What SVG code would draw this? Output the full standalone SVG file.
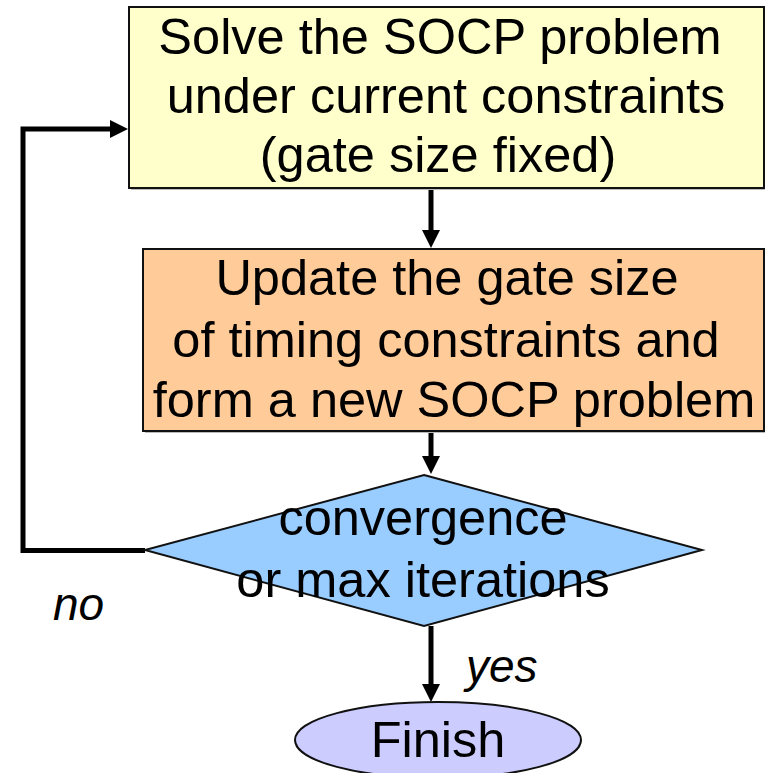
<svg xmlns="http://www.w3.org/2000/svg" width="765" height="773" viewBox="0 0 765 773">
<style>
.t{font-family:"Liberation Sans",Arial,sans-serif;font-size:50.5px;fill:#000;text-anchor:middle}
.lbl{font-family:"Liberation Sans",Arial,sans-serif;font-size:46px;font-style:italic;fill:#000}
.shape{stroke:#111;stroke-width:2}
.sh{fill:#bbb}
.c{fill:none;stroke:#000;stroke-width:5}
.ah{fill:#000}
</style>
<rect width="765" height="773" fill="#fff"/>
<g id="connectors">
<line class="c" x1="431" y1="188" x2="431" y2="232"/>
<polygon class="ah" points="422,230 440,230 431,248"/>
<line class="c" x1="431" y1="431" x2="431" y2="459"/>
<polygon class="ah" points="422,456 440,456 431,474"/>
<line class="c" x1="431" y1="626" x2="431" y2="687"/>
<polygon class="ah" points="422,684 440,684 431,702"/>
<polyline class="c" points="145,550.5 23,550.5 23,129 112,129"/>
<polygon class="ah" points="110,120 110,138 128,129"/>
</g>
<g id="solve">
<rect class="sh" x="131" y="9" width="635" height="181"/>
<rect class="shape" x="129" y="7" width="635" height="181" fill="#FFFFCC"/>
<text class="t" x="440" y="54">Solve the SOCP problem</text>
<text class="t" x="446" y="113">under current constraints</text>
<text class="t" x="438" y="172">(gate size fixed)</text>
</g>
<g id="update">
<rect class="sh" x="145" y="251" width="621" height="182"/>
<rect class="shape" x="143" y="249" width="621" height="182" fill="#FFCC99"/>
<text class="t" x="447" y="295">Update the gate size</text>
<text class="t" x="446" y="357">of timing constraints and</text>
<text class="t" x="454" y="417">form a new SOCP problem</text>
</g>
<g id="decision">
<polygon class="shape" points="424,475 702,550 424,626 145,550" fill="#99CCFF"/>
<text class="t" x="423" y="535">convergence</text>
<text class="t" x="423" y="597">or max iterations</text>
</g>
<g id="finish">
<ellipse class="shape" cx="438" cy="740" rx="143" ry="38" fill="#CCCCFF"/>
<text class="t" x="438" y="757">Finish</text>
</g>
<g id="labels">
<text class="lbl" x="53" y="620">no</text>
<text class="lbl" x="466" y="682">yes</text>
</g>
</svg>
